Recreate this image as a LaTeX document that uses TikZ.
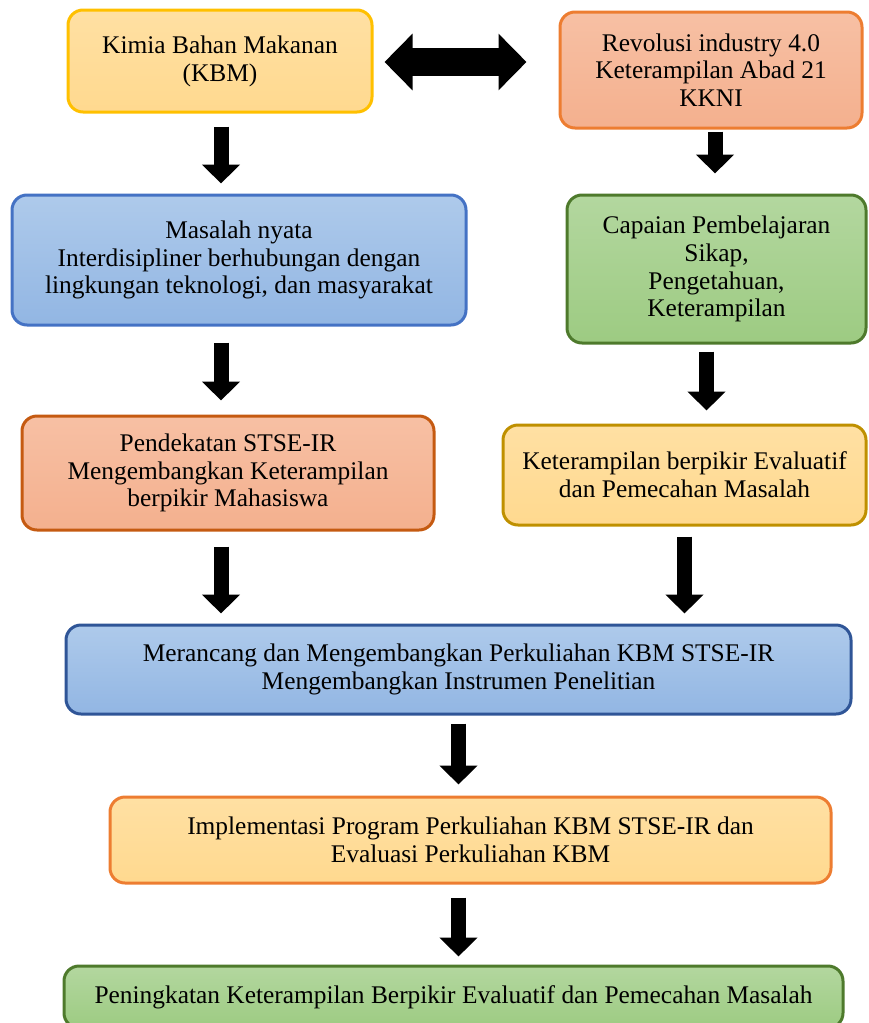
\documentclass[tikz,border=0pt]{standalone}
\usepackage{fontspec}
\setmainfont{Liberation Serif}
\usetikzlibrary{arrows.meta,calc}
\definecolor{yfill}{HTML}{FFD98F}
\definecolor{yfilltop}{HTML}{FFE0A3}
\definecolor{sfill}{HTML}{F4B08E}
\definecolor{sfilltop}{HTML}{F7C0A4}
\definecolor{bfill}{HTML}{92B6E3}
\definecolor{bfilltop}{HTML}{AECAEB}
\definecolor{gfill}{HTML}{9DCB82}
\definecolor{gfilltop}{HTML}{B3D79F}
\definecolor{goldline}{HTML}{FFC000}
\definecolor{dgoldline}{HTML}{BF9000}
\definecolor{orline}{HTML}{ED7D31}
\definecolor{dorline}{HTML}{C55A11}
\definecolor{bline}{HTML}{4472C4}
\definecolor{dbline}{HTML}{2F5597}
\definecolor{gline}{HTML}{4E7A2C}
\tikzset{
  box/.style={rounded corners=15pt, line width=3pt, align=center, inner sep=0pt,
    font=\fontsize{25.4}{27.8}\selectfont, text=black},
  ybox/.style={box, top color=yfilltop, bottom color=yfill},
  sbox/.style={box, top color=sfilltop, bottom color=sfill},
  bbox/.style={box, top color=bfilltop, bottom color=bfill},
  gbox/.style={box, top color=gfilltop, bottom color=gfill},
  blk/.style={line width=15pt, -{Triangle[width=37pt,length=19pt]}},
  dblk/.style={line width=28pt, {Triangle[width=55pt,length=28pt]}-{Triangle[width=55pt,length=28pt]}},
}
\begin{document}
\begin{tikzpicture}[x=1pt,y=-1pt]
\useasboundingbox (0,0) rectangle (869,1023);
\node[ybox, draw=goldline, minimum width=304pt, minimum height=102pt] (kbm) at (220,61)
  {Kimia Bahan Makanan\\(KBM)};
\node[sbox, draw=orline, minimum width=302pt, minimum height=116pt] (rev) at (711,70)
  {Revolusi industry 4.0\\Keterampilan Abad 21\\KKNI};
\node[bbox, draw=bline, minimum width=454pt, minimum height=130pt] (mas) at (239,260)
  {Masalah nyata\\Interdisipliner berhubungan dengan\\lingkungan teknologi, dan masyarakat};
\node[gbox, draw=gline, minimum width=299pt, minimum height=148pt] (cap) at (716.5,269)
  {Capaian Pembelajaran\\Sikap,\\Pengetahuan,\\Keterampilan};
\node[sbox, draw=dorline, minimum width=412pt, minimum height=114pt] (pen) at (228,473)
  {Pendekatan STSE-IR\\Mengembangkan Keterampilan\\berpikir Mahasiswa};
\node[ybox, draw=dgoldline, minimum width=363pt, minimum height=100pt] (ket) at (684.5,475)
  {Keterampilan berpikir Evaluatif\\dan Pemecahan Masalah};
\node[bbox, draw=dbline, minimum width=785pt, minimum height=89pt] (mer) at (458.5,669.5)
  {Merancang dan Mengembangkan Perkuliahan KBM STSE-IR\\Mengembangkan Instrumen Penelitian};
\node[ybox, draw=orline, minimum width=721pt, minimum height=86pt] (imp) at (470.5,840)
  {Implementasi Program Perkuliahan KBM STSE-IR dan\\Evaluasi Perkuliahan KBM};
\node[gbox, draw=gline, minimum width=779pt, minimum height=62pt] (pmk) at (453.5,997)
  {Peningkatan Keterampilan Berpikir Evaluatif dan Pemecahan Masalah};

\draw[dblk, shorten <=11pt, shorten >=32pt] ($(kbm.east)+(0,1)$) -- ($(kbm.east -| rev.west)+(0,1)$);
\draw[blk, shorten <=13pt, shorten >=10pt] ($(kbm.south)+(1,0)$) coordinate (a1) -- (a1 |- mas.north);
\draw[blk, shorten <=2pt, shorten >=20pt] ($(rev.south)+(4,0)$) coordinate (a2) -- (a2 |- cap.north);
\draw[blk, shorten <=16pt, shorten >=14pt] (a1 |- mas.south) -- (a1 |- pen.north);
\draw[blk, shorten <=7pt, shorten >=13pt] ($(cap.south)+(-10,0)$) coordinate (a4) -- (a4 |- ket.north);
\draw[blk, shorten <=15pt, shorten >=10pt] (a1 |- pen.south) -- (a1 |- mer.north);
\draw[blk, shorten <=10pt, shorten >=10pt] (ket.south) -- (ket.south |- mer.north);
\draw[blk, shorten <=8pt, shorten >=11pt] ($(mer.south)+(0,0)$) coordinate (a7) -- (a7 |- imp.north);
\draw[blk, shorten <=13pt, shorten >=8pt] (a7 |- imp.south) -- (a7 |- pmk.north);
\end{tikzpicture}
\end{document}
